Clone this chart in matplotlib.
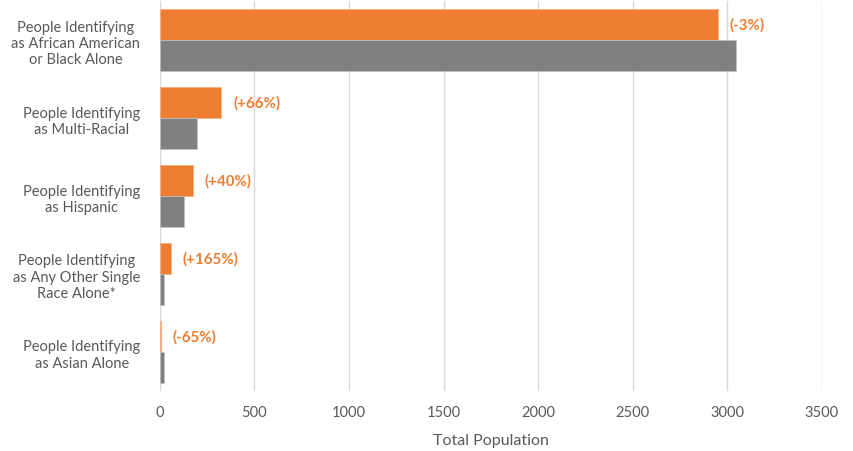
import numpy as np
import matplotlib
matplotlib.use("Agg")
import matplotlib.pyplot as plt

plt.rcParams['font.family'] = ['Lato', 'DejaVu Sans']

categories = [
    "People Identifying\nas African American\nor Black Alone",
    "People Identifying\nas Multi-Racial",
    "People Identifying\nas Hispanic",
    "People Identifying\nas Any Other Single\nRace Alone*",
    "People Identifying\nas Asian Alone",
]
pop_2020 = [2948, 326, 174, 60, 7]
pop_2010 = [3043, 196, 126, 22, 21]
changes = ["(-3%)", "(+66%)", "(+40%)", "(+165%)", "(-65%)"]

orange = "#ED7D31"
gray = "#808080"
text_col = "#595959"

fig = plt.figure(figsize=(8.54, 4.52), dpi=100)
ax = fig.add_axes([0.187, 0.133, 0.7755, 0.862])

y = np.arange(len(categories))
h = 0.4
ax.barh(y - h / 2, pop_2020, height=h, color=orange, edgecolor="#F4B183", linewidth=0.6, zorder=3)
ax.barh(y + h / 2, pop_2010, height=h, color=gray, edgecolor="#BFBFBF", linewidth=0.6, zorder=3)

# percent change labels next to the 2020 bars
for yi, v, lab in zip(y, pop_2020, changes):
    ax.annotate(lab, (v, yi - h / 2), xytext=(8.5, 0), textcoords="offset points",
                va="center", ha="left", color=orange, fontsize=10.8, fontweight="bold")

ax.set_xlim(0, 3500)
ax.set_ylim(len(categories) - 0.5, -0.5)
ax.set_xticks(np.arange(0, 3501, 500))
ax.set_yticks(y)
ax.set_yticklabels(categories, multialignment="center")
ax.tick_params(axis="both", length=0, colors=text_col, labelsize=10.5)
ax.tick_params(axis="x", pad=10)
ax.tick_params(axis="y", pad=14)
ax.grid(axis="x", color="#D9D9D9", linewidth=1, zorder=0)
for s in ax.spines.values():
    s.set_visible(False)
ax.set_xlabel("Total Population", color=text_col, fontsize=11.5, labelpad=10)

fig.savefig("out.png", dpi=100)
